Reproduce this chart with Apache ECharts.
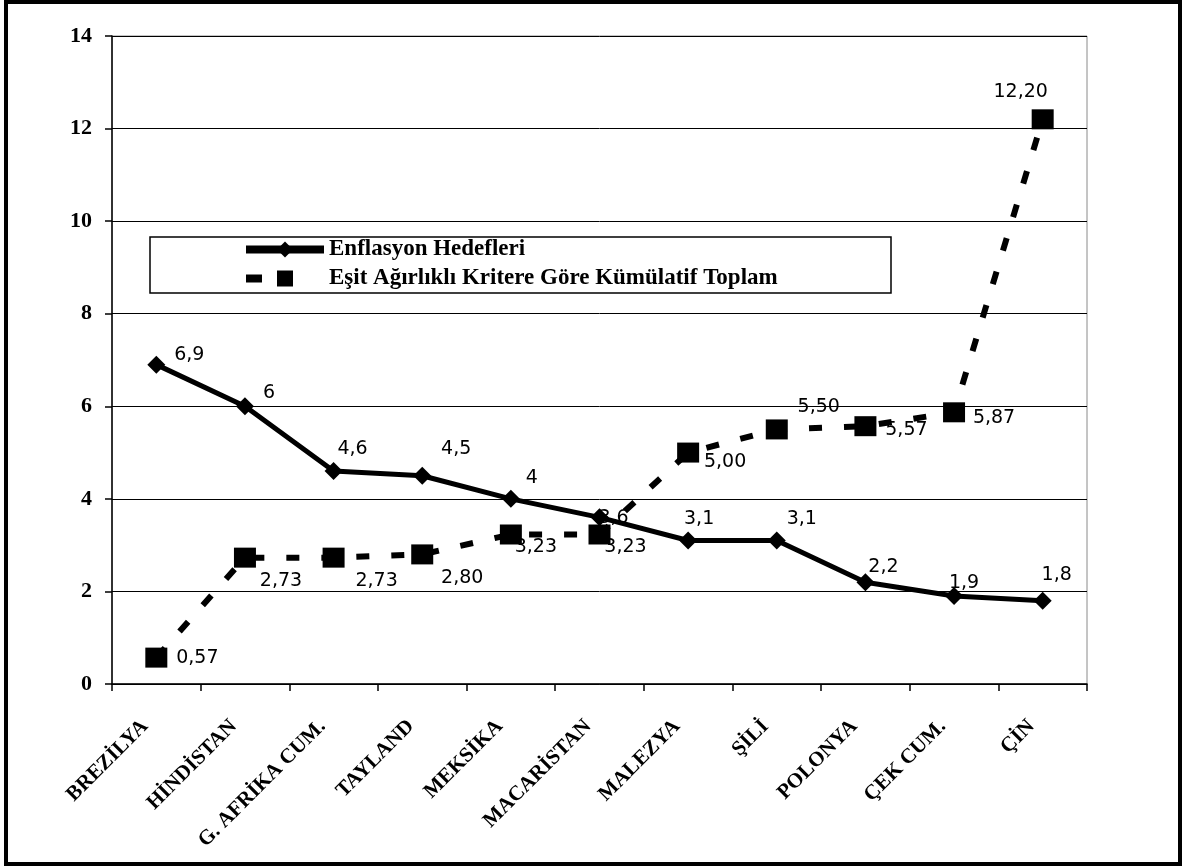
<!DOCTYPE html>
<html>
<head>
<meta charset="utf-8">
<script src="https://cdn.jsdelivr.net/npm/echarts@6/dist/echarts.min.js"></script>
<style>
  html, body { margin: 0; padding: 0; background: #fff; }
  #chart { width: 1187px; height: 867px; }
</style>
</head>
<body>
<div id="chart"></div>
<script>
// Countries on the category axis
const countries = ['BREZİLYA', 'HİNDİSTAN', 'G. AFRİKA CUM.', 'TAYLAND', 'MEKSİKA',
  'MACARİSTAN', 'MALEZYA', 'ŞİLİ', 'POLONYA', 'ÇEK CUM.', 'ÇİN'];

// Inflation targets
const enflasyonHedefleri = [6.9, 6, 4.6, 4.5, 4, 3.6, 3.1, 3.1, 2.2, 1.9, 1.8];
const enflasyonEtiket = ['6,9', '6', '4,6', '4,5', '4', '3,6', '3,1', '3,1', '2,2', '1,9', '1,8'];

// Cumulative total by equal-weight criteria
const kumulatifToplam = [0.57, 2.73, 2.73, 2.80, 3.23, 3.23, 5.00, 5.50, 5.57, 5.87, 12.20];
const kumulatifEtiket = ['0,57', '2,73', '2,73', '2,80', '3,23', '3,23', '5,00', '5,50', '5,57', '5,87', '12,20'];

// Y-axis range
const yMin = 0, yMax = 14, yStep = 2;

// Label placement (pixel offsets from each point)
const enfOffsets = [[33,-10],[24,-13],[19,-22],[34,-27],[21,-21],[14,1],[11,-21],[25,-21],[18,-15],[10,-13],[14,-26]];
const kumOffsets = [[41,0],[36,23],[43,23],[40,24],[25,13],[26,13],[37,9],[42,-22],[41,4],[40,6],[-22,-27]];

const serif = '"Liberation Serif", "DejaVu Serif", serif';
const sans = '"DejaVu Sans", "Liberation Sans", sans-serif';

const SERIES_ENF = 'Enflasyon Hedefleri';
const SERIES_KUM = 'Eşit Ağırlıklı Kritere Göre Kümülatif Toplam';

function withLabels(values, texts, offsets) {
  return values.map((v, i) => ({
    value: v,
    label: { formatter: texts[i], offset: offsets[i] }
  }));
}

const chart = echarts.init(document.getElementById('chart'), null, { renderer: 'canvas' });

chart.setOption({
  backgroundColor: '#ffffff',
  animation: false,
  grid: {
    left: 112, right: 100, top: 36, bottom: 183,
    show: true, borderColor: '#8a8a8a', borderWidth: 1, backgroundColor: 'transparent'
  },
  legend: {
    orient: 'vertical',
    left: 242, top: 238,
    itemWidth: 78, itemHeight: 20, itemGap: 6,
    padding: 0,
    textStyle: { fontFamily: serif, fontWeight: 'bold', fontSize: 23, color: '#000' },
    data: [
      { name: SERIES_ENF, lineStyle: { width: 8, color: '#000' } },
      { name: SERIES_KUM, lineStyle: { width: 8, color: '#000', type: [16, 200] } }
    ]
  },
  xAxis: {
    type: 'category',
    data: countries,
    boundaryGap: true,
    axisLine: { lineStyle: { color: '#000', width: 1.5 } },
    axisTick: { show: true, length: 7, lineStyle: { color: '#000', width: 1.5 } },
    axisLabel: {
      rotate: 45, margin: 28, interval: 0, padding: [0, 16, 0, 0],
      fontFamily: serif, fontWeight: 'bold', fontSize: 21, color: '#000'
    },
    splitLine: { show: false }
  },
  yAxis: {
    type: 'value',
    min: yMin, max: yMax, interval: yStep,
    axisLine: { show: true, lineStyle: { color: '#000', width: 1.5 } },
    axisTick: { show: true, length: 7, lineStyle: { color: '#000', width: 1.5 } },
    axisLabel: {
      margin: 20, fontFamily: serif, fontWeight: 'bold', fontSize: 22, color: '#000'
    },
    splitLine: { show: true, lineStyle: { color: '#000', width: 1 } }
  },
  series: [
    {
      name: SERIES_ENF,
      type: 'line',
      data: withLabels(enflasyonHedefleri, enflasyonEtiket, enfOffsets),
      symbol: 'diamond',
      symbolSize: 18,
      itemStyle: { color: '#000' },
      lineStyle: { color: '#000', width: 5 },
      label: {
        show: true, position: 'inside', align: 'center', verticalAlign: 'middle',
        fontFamily: sans, fontSize: 19, color: '#000'
      },
      z: 3
    },
    {
      name: SERIES_KUM,
      type: 'line',
      data: withLabels(kumulatifToplam, kumulatifEtiket, kumOffsets),
      symbol: 'rect',
      symbolSize: [22, 20],
      itemStyle: { color: '#000' },
      lineStyle: { color: '#000', width: 6, type: [13, 22], cap: 'butt' },
      label: {
        show: true, position: 'inside', align: 'center', verticalAlign: 'middle',
        fontFamily: sans, fontSize: 19, color: '#000'
      },
      z: 2
    }
  ],
  graphic: [
    {
      // legend frame
      type: 'rect',
      shape: { x: 150, y: 237, width: 741, height: 56 },
      style: { fill: 'transparent', stroke: '#000', lineWidth: 1.5 },
      z: 0
    },
    {
      // outer frame
      type: 'rect',
      shape: { x: 6, y: 2, width: 1174, height: 862 },
      style: { fill: 'transparent', stroke: '#000', lineWidth: 4 },
      z: 0
    }
  ]
});
</script>
</body>
</html>
